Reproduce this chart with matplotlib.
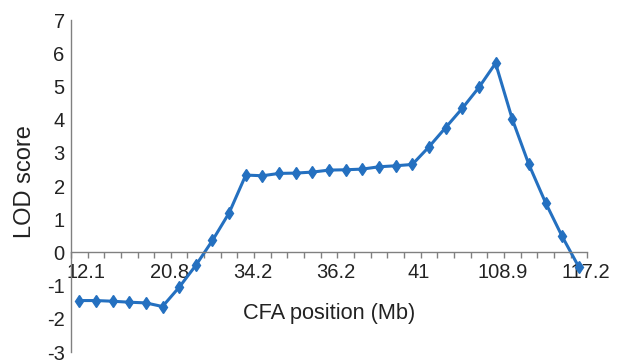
import matplotlib
matplotlib.use("Agg")
import matplotlib.pyplot as plt
import numpy as np

plt.rcParams["font.family"] = ["Liberation Sans", "DejaVu Sans"]

# LOD score at each marker along the CFA position axis
lod = [-1.45, -1.45, -1.47, -1.50, -1.52, -1.63, -1.05, -0.39, 0.36, 1.19,
       2.33, 2.31, 2.38, 2.39, 2.42, 2.48, 2.49, 2.51, 2.58, 2.61,
       2.65, 3.18, 3.76, 4.34, 4.97, 5.70, 4.02, 2.65, 1.50, 0.48,
       -0.44]
pos_labels = ["12.1", "20.8", "34.2", "36.2", "41", "108.9", "117.2"]
label_every = 5
y_ticks = list(range(-3, 8))

blue = "#2470c0"
grey = "#808080"
text_col = "#222222"

fig = plt.figure(figsize=(6.22, 3.62), dpi=100)
ax = fig.add_axes([0.114, 0.0276, 0.83, 0.917])

x = np.arange(len(lod))
ax.plot(x, lod, color=blue, lw=2.2, marker="d", ms=6, mfc=blue, mec=blue)

ax.set_xlim(-0.5, len(lod) - 0.5)
ax.set_ylim(-3, 7)

for side in ["top", "right"]:
    ax.spines[side].set_visible(False)
ax.spines["bottom"].set_position(("data", 0))
for side in ["left", "bottom"]:
    ax.spines[side].set_color(grey)
    ax.spines[side].set_linewidth(1.0)

# tick marks between categories, labels every fifth category
ax.set_xticks(np.arange(len(lod) + 1) - 0.5, minor=True)
ax.set_xticks(np.arange(0, len(lod), label_every) + 0.4)
ax.set_xticklabels(pos_labels, fontsize=14.5, color=text_col)
ax.tick_params(axis="x", which="minor", direction="out", length=4.5,
               width=1, color=grey)
ax.tick_params(axis="x", which="major", length=0, pad=7.5)

ax.set_yticks(y_ticks)
ax.set_yticklabels([str(v) for v in y_ticks], fontsize=14.5, color=text_col)
ax.tick_params(axis="y", length=0, pad=4.5)

ax.text(0.5, 0.117, "CFA position (Mb)", transform=ax.transAxes,
        ha="center", va="center", fontsize=15.7, color=text_col)
ax.text(-0.089, 0.512, "LOD score", transform=ax.transAxes, rotation=90,
        ha="center", va="center", fontsize=17, color=text_col)

fig.savefig("out.png", dpi=100)
